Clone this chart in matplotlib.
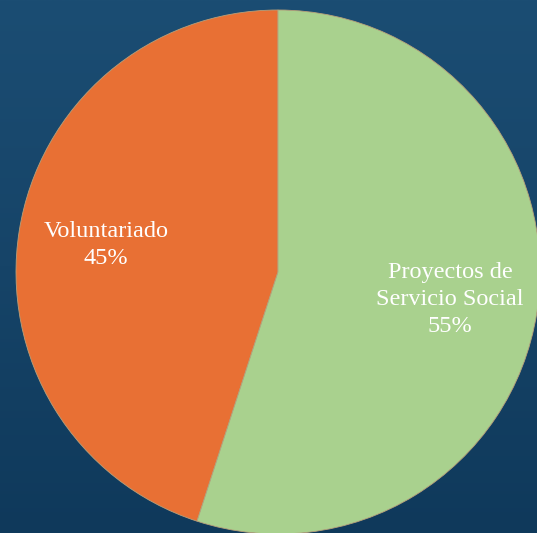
import numpy as np
import matplotlib
matplotlib.use("Agg")
import matplotlib.pyplot as plt
from matplotlib.colors import LinearSegmentedColormap

labels = ["Voluntariado", "Proyectos de\nServicio Social"]
values = [45, 55]
colors = ["#E87034", "#A9D18E"]

W, H = 537, 533
fig = plt.figure(figsize=(W / 100, H / 100), dpi=100)

# background gradient
bg = fig.add_axes([0, 0, 1, 1])
grad = np.linspace(0, 1, 256).reshape(-1, 1)
cmap = LinearSegmentedColormap.from_list("bg", ["#1b4d73", "#164468", "#0f395b"])
bg.imshow(grad, aspect="auto", cmap=cmap, extent=[0, 1, 0, 1], origin="upper")
bg.set_axis_off()

cx, cy, r = 278, 272, 262
ax = fig.add_axes([(cx - r) / W, (H - cy - r) / H, 2 * r / W, 2 * r / H])
ax.set_axis_off()

def fmt(lbl, v):
    return f"{lbl}\n{v}%"

wedges, texts = ax.pie(values, colors=colors, startangle=90, counterclock=True,
                       labels=[fmt(l, v) for l, v in zip(labels, values)],
                       labeldistance=0.665,
                       wedgeprops=dict(linewidth=0.6, edgecolor="#b8a07a"),
                       textprops=dict(color="white", fontsize=17.5, family="Liberation Serif",
                                      ha="center", va="center", linespacing=1.38))
for t in texts:
    t.set_ha("center")
ax.set_xlim(-1, 1)
ax.set_ylim(-1, 1)

fig.savefig("out.png", dpi=100)
